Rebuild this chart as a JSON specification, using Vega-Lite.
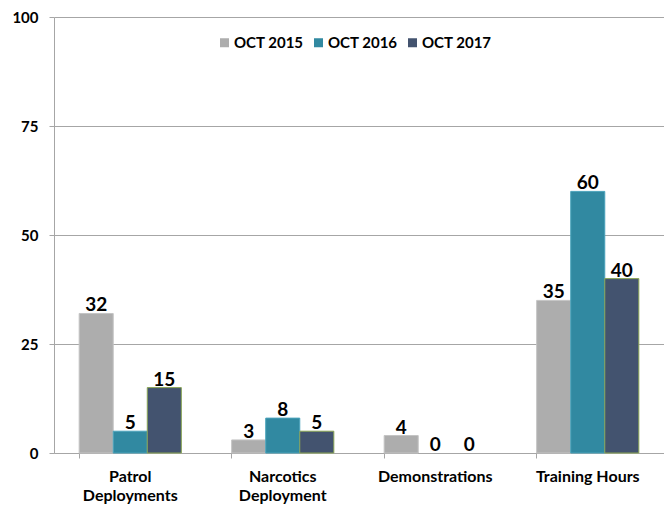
{
  "$schema": "https://vega.github.io/schema/vega-lite/v6.json",
  "width": 610,
  "height": 436,
  "autosize": {"type": "none"},
  "padding": {"left": 54, "top": 17, "right": 0, "bottom": 55},
  "background": "white",
  "data": {
    "values": [
      {"category": "Patrol Deployments", "series": "OCT 2015", "value": 32},
      {"category": "Patrol Deployments", "series": "OCT 2016", "value": 5},
      {"category": "Patrol Deployments", "series": "OCT 2017", "value": 15},
      {"category": "Narcotics Deployment", "series": "OCT 2015", "value": 3},
      {"category": "Narcotics Deployment", "series": "OCT 2016", "value": 8},
      {"category": "Narcotics Deployment", "series": "OCT 2017", "value": 5},
      {"category": "Demonstrations", "series": "OCT 2015", "value": 4},
      {"category": "Demonstrations", "series": "OCT 2016", "value": 0},
      {"category": "Demonstrations", "series": "OCT 2017", "value": 0},
      {"category": "Training Hours", "series": "OCT 2015", "value": 35},
      {"category": "Training Hours", "series": "OCT 2016", "value": 60},
      {"category": "Training Hours", "series": "OCT 2017", "value": 40}
    ]
  },
  "config": {
    "view": {"stroke": null},
    "font": "Lato"
  },
  "encoding": {
    "x": {
      "field": "category",
      "type": "nominal",
      "sort": ["Patrol Deployments", "Narcotics Deployment", "Demonstrations", "Training Hours"],
      "scale": {"paddingInner": 0.33, "paddingOuter": 0.165},
      "axis": {
        "title": null,
        "labelAngle": 0,
        "labelFont": "Lato",
        "labelFontSize": 16,
        "labelFontWeight": "bold",
        "labelColor": "#000000",
        "labelPadding": 10,
        "labelLineHeight": 19,
        "labelExpr": "datum.label == 'Patrol Deployments' ? ['Patrol', 'Deployments'] : datum.label == 'Narcotics Deployment' ? ['Narcotics', 'Deployment'] : datum.label",
        "bandPosition": 0,
        "tickSize": 5,
        "tickColor": "#a6a6a6",
        "domainColor": "#a6a6a6",
        "grid": false
      }
    },
    "xOffset": {
      "field": "series",
      "type": "nominal",
      "scale": {"paddingInner": 0, "paddingOuter": 0}
    },
    "y": {
      "field": "value",
      "type": "quantitative",
      "scale": {"domain": [0, 100], "nice": false},
      "axis": {
        "title": null,
        "values": [0, 25, 50, 75, 100],
        "labelFont": "Lato",
        "labelFontSize": 15,
        "labelFontWeight": "bold",
        "labelColor": "#000000",
        "labelPadding": 11,
        "tickSize": 5,
        "tickColor": "#a6a6a6",
        "domainColor": "#a6a6a6",
        "gridColor": "#a6a6a6",
        "grid": true
      }
    }
  },
  "layer": [
    {
      "mark": {"type": "bar"},
      "encoding": {
        "color": {
          "field": "series",
          "type": "nominal",
          "scale": {
            "domain": ["OCT 2015", "OCT 2016", "OCT 2017"],
            "range": ["#adadad", "#3189a1", "#43536f"]
          },
          "legend": {
            "title": null,
            "orient": "none",
            "legendX": 163,
            "legendY": 18,
            "direction": "horizontal",
            "symbolType": "square",
            "symbolSize": 81,
            "symbolStrokeWidth": 0,
            "labelFont": "Lato",
            "labelFontSize": 15,
            "labelFontWeight": "bold",
            "labelColor": "#000000",
            "labelOffset": 2,
            "columnPadding": 7
          }
        },
        "stroke": {
          "field": "series",
          "type": "nominal",
          "scale": {
            "domain": ["OCT 2015", "OCT 2016", "OCT 2017"],
            "range": ["#c4c4c4", "#4aa3bb", "#8aa655"]
          },
          "legend": null
        },
        "strokeWidth": {
          "condition": {"test": "datum.value == 0", "value": 0},
          "value": 1
        }
      }
    },
    {
      "mark": {
        "type": "text",
        "baseline": "alphabetic",
        "dy": -2,
        "font": "Lato",
        "fontSize": 19,
        "fontWeight": "bold",
        "color": "#000000"
      },
      "encoding": {
        "text": {"field": "value", "type": "quantitative"}
      }
    }
  ]
}
